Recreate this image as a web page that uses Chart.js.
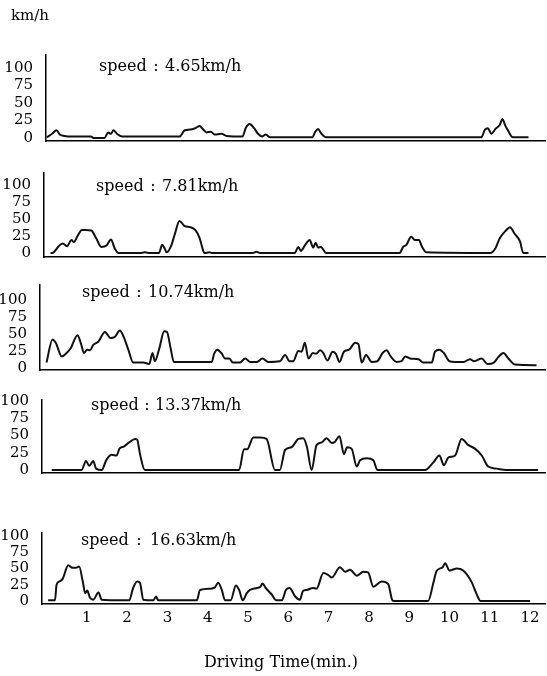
<!DOCTYPE html>
<html><head><meta charset="utf-8">
<script src="https://cdn.jsdelivr.net/npm/chart.js@4.4.0/dist/chart.umd.min.js"></script>
<style>
html,body{margin:0;padding:0;background:#fff;}
#wrap{position:relative;width:547px;height:676px;overflow:hidden;}
#wrap canvas{position:absolute;left:0;top:0;}
</style></head><body><div id="wrap"></div>
<script>
// ---------- data ----------
const xTickLabels = [1,2,3,4,5,6,7,8,9,10,11,12];
const yTickLabels = [0,25,50,75,100];
const speedNames = ['4.65km/h','7.81km/h','10.74km/h','13.37km/h','16.63km/h'];
const unitLabel = 'km/h';
const axisTitle = 'Driving Time(min.)';

const time1 = [0.01,0.14,0.25,0.33,0.45,0.58,1.10,1.18,1.44,1.53,1.60,1.66,1.75,1.88,3.30,3.43,3.56,3.69,3.80,3.89,3.97,4.08,4.17,4.34,4.47,4.86,4.95,5.04,5.15,5.25,5.35,5.44,5.55,6.60,6.66,6.74,6.81,6.94,10.79,10.88,10.95,11.04,11.14,11.25,11.31,11.39,11.44,11.57,11.96];
const speed1 = [1,6,11,5,3,2,2,0,0,8,6,11,6,2,2,11,12,14,17,12,8,9,5,6,3,2,15,20,14,6,2,5,1,1,8,13,7,1,1,12,14,6,13,19,27,17,12,1,1];

const time2 = [0.10,0.14,0.32,0.40,0.51,0.62,0.68,0.77,0.88,0.97,1.11,1.23,1.36,1.49,1.60,1.69,1.79,2.31,2.44,2.57,2.79,2.87,2.93,2.98,3.09,3.18,3.30,3.42,3.57,3.69,3.80,3.87,3.92,4.04,4.10,5.12,5.21,5.30,6.16,6.25,6.31,6.42,6.53,6.62,6.68,6.74,6.81,6.94,8.76,8.85,8.93,9.05,9.14,9.24,9.32,9.43,11.01,11.14,11.25,11.40,11.50,11.62,11.75,11.83,11.96];
const speed2 = [0,0,11,14,10,19,16,25,34,34,33,22,9,11,20,7,0,0,1,0,0,12,7,1,10,27,47,40,38,34,22,7,0,1,0,0,2,0,0,9,3,12,19,8,15,8,9,0,0,9,12,24,19,19,9,1,0,7,22,33,38,28,17,0,0];

const time3 = [0.00,0.15,0.23,0.38,0.50,0.60,0.77,0.85,0.93,1.01,1.08,1.16,1.29,1.45,1.59,1.70,1.82,1.92,2.03,2.15,2.40,2.55,2.63,2.69,2.80,2.92,2.99,3.08,3.16,4.10,4.16,4.24,4.35,4.43,4.54,4.62,4.80,4.93,5.05,5.22,5.36,5.50,5.79,5.92,6.03,6.12,6.25,6.33,6.41,6.50,6.61,6.69,6.79,6.87,6.97,7.10,7.18,7.27,7.38,7.51,7.66,7.74,7.82,7.93,8.07,8.21,8.34,8.44,8.54,8.69,8.81,8.90,9.02,9.23,9.35,9.56,9.64,9.75,9.86,10.00,10.14,10.35,10.51,10.61,10.80,10.94,11.10,11.21,11.34,11.46,11.63,12.16];
const speed3 = [8,42,37,17,22,29,48,37,22,27,26,34,39,53,44,46,55,45,27,8,8,6,22,10,29,54,53,29,9,9,21,27,21,14,14,8,8,14,9,9,14,9,10,19,10,10,25,24,37,14,22,21,26,22,11,24,21,9,24,27,37,35,8,19,9,10,22,26,17,9,10,17,14,13,8,8,24,27,22,10,9,9,13,10,14,6,8,16,22,14,5,4];

const time4 = [0.13,0.87,0.98,1.06,1.16,1.23,1.37,1.48,1.62,1.74,1.81,1.92,2.05,2.20,2.25,2.32,2.44,4.78,4.90,4.98,5.13,5.30,5.46,5.67,5.79,5.92,6.08,6.25,6.37,6.46,6.58,6.70,6.83,6.95,7.08,7.16,7.27,7.38,7.46,7.57,7.70,7.78,7.95,8.11,8.21,9.39,9.60,9.75,9.86,9.97,10.14,10.30,10.47,10.63,10.80,10.96,11.17,11.40,12.20];
const speed4 = [0,0,13,6,13,2,0,14,22,21,31,34,40,45,44,23,0,0,30,30,47,47,45,0,0,29,33,45,46,34,0,36,40,46,39,41,49,23,33,31,5,14,17,14,0,0,11,21,7,18,21,45,36,31,21,5,2,0,0];

const time5 = [0.04,0.21,0.25,0.32,0.40,0.54,0.64,0.73,0.81,0.90,0.96,1.01,1.08,1.16,1.29,1.37,1.87,2.05,2.15,2.25,2.32,2.40,2.65,2.72,2.77,3.73,3.81,4.06,4.18,4.26,4.35,4.43,4.57,4.70,4.78,4.87,4.97,5.05,5.22,5.31,5.36,5.44,5.59,5.70,5.84,5.94,6.03,6.17,6.29,6.36,6.46,6.61,6.70,6.87,6.99,7.08,7.28,7.41,7.53,7.70,7.86,7.98,8.11,8.32,8.48,8.57,8.61,9.47,9.60,9.68,9.83,9.89,10.00,10.18,10.34,10.55,10.67,10.77,12.00];
const speed5 = [1,1,25,30,34,55,51,51,53,30,12,16,5,2,13,2,1,1,20,30,28,2,1,7,1,1,17,19,21,28,17,1,1,24,17,1,12,17,20,22,27,20,10,1,1,17,20,7,2,15,17,20,19,43,40,36,52,45,48,39,45,44,22,30,26,3,0,0,28,46,52,58,47,50,47,29,11,0,0];

const panelTimes = [time1,time2,time3,time4,time5];
const panelSpeeds = [speed1,speed2,speed3,speed4,speed5];

// ---------- layout (pixels) ----------
const W = 547, H = 676;
const X0PX = 46.5, PX_PER_MIN = 40.3, RIGHT_EDGE = 545;
// txt: [speed x, colon x, value x, y]
const layoutCfg = [
  {axisX:46, top:55,  y100:68,  y0:138, base:141, txt:[99,156,165,67]},
  {axisX:44, top:173, y100:185, y0:253, base:257, txt:[96,153,162,187]},
  {axisX:40, top:285, y100:300, y0:368, base:370, txt:[82,139,148,293]},
  {axisX:42, top:400, y100:401, y0:470, base:473, txt:[91,147,155,406]},
  {axisX:42, top:533, y100:536, y0:601, base:604, txt:[81,139,150,541]}
];
const SERIF = '"DejaVu Serif", "Liberation Serif", serif';

const textPlugin = {
  id: 'panelText',
  afterDraw(chart, args, opts) {
    const ctx = chart.ctx;
    ctx.save();
    ctx.fillStyle = '#000';
    ctx.textBaseline = 'middle';
    const [xs, xc, xv, y] = opts.pos;
    ctx.font = '16px ' + SERIF;
    ctx.textAlign = 'left';
    ctx.fillText('speed', xs, y);
    ctx.textAlign = 'center';
    ctx.fillText(':', xc, y);
    ctx.textAlign = 'left';
    ctx.fillText(opts.value, xv, y);
    if (opts.unit) {
      ctx.font = '15px ' + SERIF;
      ctx.fillText(opts.unit, 11, 16);
    }
    if (opts.title) {
      ctx.font = '16px ' + SERIF;
      ctx.textAlign = 'center';
      ctx.fillText(opts.title, 281, 663);
    }
    ctx.restore();
  }
};

const wrap = document.getElementById('wrap');
layoutCfg.forEach((L, i) => {
  const cv = document.createElement('canvas');
  cv.width = W; cv.height = H;
  wrap.appendChild(cv);
  const isLast = i === layoutCfg.length - 1;
  const k = (L.y0 - L.y100) / 100;
  const yMin = -(L.base - L.y0) / k;
  const yMax = (L.y0 - L.top) / k;
  const xMin = (L.axisX - X0PX) / PX_PER_MIN;
  const xMax = (RIGHT_EDGE - X0PX) / PX_PER_MIN;
  const pts = panelTimes[i].map((t, j) => ({x: t, y: panelSpeeds[i][j]}));
  new Chart(cv, {
    type: 'line',
    data: { datasets: [{
      data: pts,
      borderColor: '#111',
      borderWidth: 2,
      pointRadius: 0,
      fill: false,
      cubicInterpolationMode: 'monotone'
    }]},
    options: {
      responsive: false,
      animation: false,
      events: [],
      layout: { padding: { top: L.top, bottom: isLast ? 0 : H - L.base, left: 0, right: W - RIGHT_EDGE } },
      plugins: {
        legend: { display: false },
        tooltip: { enabled: false },
        panelText: { pos: L.txt, value: speedNames[i], unit: i === 0 ? unitLabel : null, title: isLast ? axisTitle : null }
      },
      scales: {
        x: {
          type: 'linear', min: xMin, max: xMax,
          grid: { display: false },
          border: { display: true, color: '#000', width: 1.5 },
          ticks: { display: isLast, color: '#000', padding: -3, font: { family: SERIF, size: 15 }, autoSkip: false, maxRotation: 0 },
          afterBuildTicks: s => { s.ticks = xTickLabels.map(v => ({value: v})); },
          afterFit: s => { s.height = isLast ? H - L.base : 0; }
        },
        y: {
          type: 'linear', min: yMin, max: yMax,
          grid: { display: false },
          border: { display: true, color: '#000', width: 1.5 },
          ticks: { color: '#000', padding: 5, font: { family: SERIF, size: 15 }, autoSkip: false },
          afterBuildTicks: s => { s.ticks = yTickLabels.map(v => ({value: v})); },
          afterFit: s => { s.width = L.axisX; }
        }
      }
    },
    plugins: [textPlugin]
  });
});
</script></body></html>
